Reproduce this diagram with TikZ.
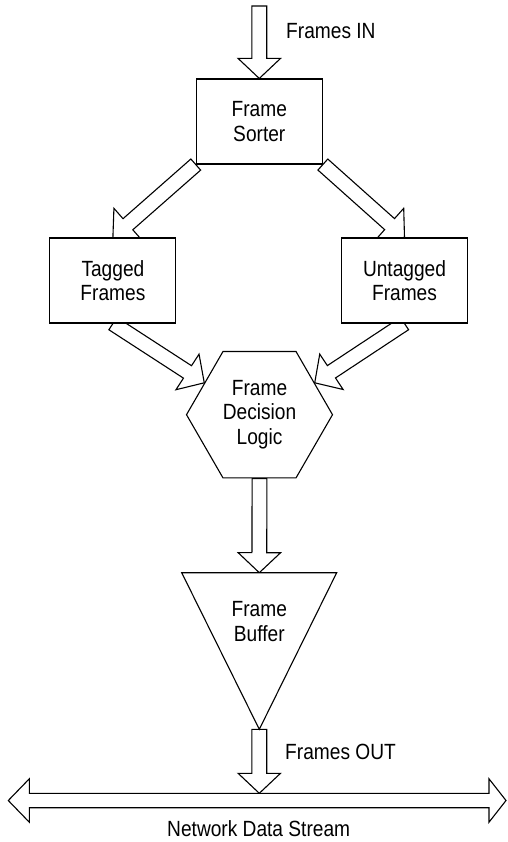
\documentclass[tikz,border=0pt]{standalone}
\usepackage{fontspec}
\setmainfont{Liberation Sans}[FakeStretch=0.87]
\usepackage{tikz}
\usetikzlibrary{calc,positioning,shapes.geometric,backgrounds}
\newcommand{\lbf}{\fontsize{22pt}{24.7pt}\selectfont}
\def\shw{7.4pt}
\def\hhw{21.2pt}
\def\hlen{20pt}
\tikzset{
  blk/.style={draw=black,line width=1.1pt,fill=white},
  box/.style={draw,line width=1.1pt,fill=white,minimum width=126pt,minimum height=85pt,inner sep=0pt,align=center,font=\lbf},
  hexa/.style={regular polygon,regular polygon sides=6,draw,line width=1.1pt,fill=white,minimum size=146pt,inner sep=0pt,align=center,font=\lbf},
  lbl/.style={inner sep=0pt,font=\lbf}
}
% hollow block arrow from #1 to the tip #2
\newcommand{\blkarrow}[2]{%
  \draw[blk] let \p1=(#1), \p2=(#2), \n1={atan2(\y2-\y1,\x2-\x1)} in
    ($(\p1)+({\n1+90}:\shw)$) -- ($(\p2)+({\n1+180}:\hlen)+({\n1+90}:\shw)$)
    -- ($(\p2)+({\n1+180}:\hlen)+({\n1+90}:\hhw)$) -- (\p2)
    -- ($(\p2)+({\n1+180}:\hlen)+({\n1-90}:\hhw)$)
    -- ($(\p2)+({\n1+180}:\hlen)+({\n1-90}:\shw)$)
    -- ($(\p1)+({\n1-90}:\shw)$) -- cycle;}

\begin{document}
\begin{tikzpicture}[x=1pt,y=-1pt]
\useasboundingbox (0,0) rectangle (507,842);
% blocks
\node[box] (srt) at (259.3,121.5) {Frame\\Sorter};
\node[box] (tag) at (112.9,280.5) {Tagged\\Frames};
\node[box] (untag) at (404.5,280.5) {Untagged\\Frames};
\node[hexa] (hex) at (259.5,414.7) {Frame\\Decision\\Logic};
% buffer triangle
\coordinate (bufL) at (181.7,572.7);
\coordinate (bufR) at (336.7,572.7);
\coordinate (buftop) at (259.3,572.7);
\coordinate (bufapex) at (259.3,729.3);
\draw[blk] (bufL) -- (bufR) -- (bufapex) -- cycle;
\node[lbl,align=center] (buf) at (259.3,621.5) {Frame\\Buffer};
% network stream
\coordinate (netL) at (8.3,800.5);
\coordinate (netR) at (506,800.5);
\coordinate (netin) at (259.3,793.3);
\draw[blk] (netL) -- ++(21,-21.7) -- ++(0,14.5) -- ($(netR)+(-17,-7.2)$) -- ++(0,-14.5) -- (netR)
  -- ++(-17,21.7) -- ++(0,-14.5) -- ($(netL)+(21,7.2)$) -- ++(0,14.5) -- cycle;
% labels
\node[lbl,anchor=west] (fin) at (286,31) {Frames IN};
\node[lbl,anchor=west] (fout) at (285,751.5) {Frames OUT};
\node[lbl] (net) at (258.7,828.3) {Network Data Stream};
% arrows
\coordinate (inarr) at (259.3,6);
\begin{scope}[on background layer]
\blkarrow{inarr}{srt.north}
\blkarrow{srt.south west}{tag.north}
\blkarrow{srt.south east}{untag.north}
\blkarrow{tag.south}{hex.150}
\blkarrow{untag.south}{hex.30}
\blkarrow{hex.south}{buftop}
\blkarrow{bufapex}{netin}
\end{scope}
\end{tikzpicture}
\end{document}
